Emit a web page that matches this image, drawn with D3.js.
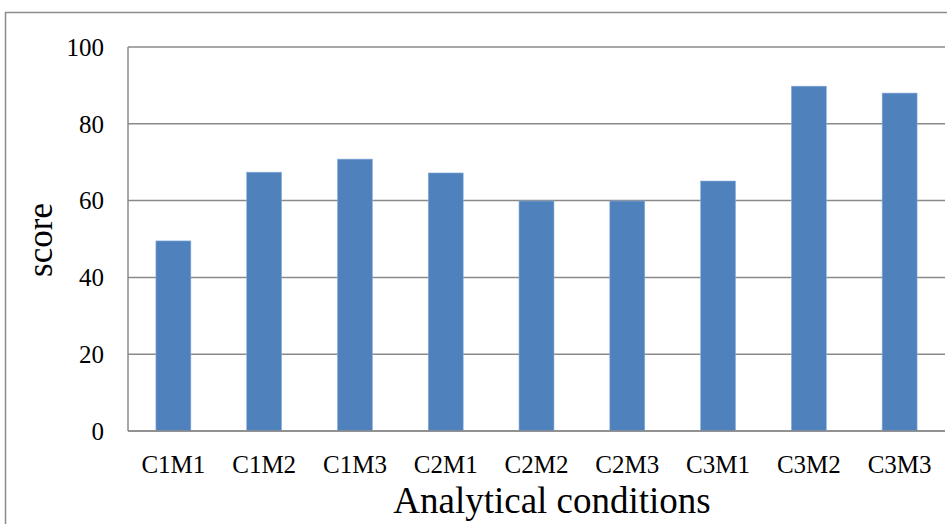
<!DOCTYPE html>
<html>
<head>
<meta charset="utf-8">
<script src="https://cdn.jsdelivr.net/npm/d3@7"></script>
<style>
  body { margin: 0; background: #fff; }
  text { font-family: "Liberation Serif", "Times New Roman", serif; fill: #000; }
</style>
</head>
<body>
<svg width="947" height="524"></svg>
<script>
var categories = ["C1M1", "C1M2", "C1M3", "C2M1", "C2M2", "C2M3", "C3M1", "C3M2", "C3M3"];
var scores = [49.5, 67.4, 70.8, 67.2, 59.9, 59.9, 65.1, 89.8, 88.0];
var yTicks = [0, 20, 40, 60, 80, 100];

var svg = d3.select("svg");

var margin = {left: 128, top: 47, right: 2, bottom: 93};
var width = 947 - margin.left - margin.right,
    height = 524 - margin.top - margin.bottom;

// outer chart border
svg.append("rect")
    .attr("x", 5.5).attr("y", 12.5)
    .attr("width", 960).attr("height", 540)
    .attr("fill", "none")
    .attr("stroke", "#8c8c8c")
    .attr("stroke-width", 1.5);

var g = svg.append("g")
    .attr("transform", "translate(" + margin.left + "," + margin.top + ")");

var x = d3.scaleBand()
    .domain(categories)
    .range([0, width])
    .paddingInner(0.615)
    .paddingOuter(0.3075);

var y = d3.scaleLinear()
    .domain([0, 100])
    .range([height, 0]);

// gridlines
g.selectAll(".grid")
  .data(yTicks)
  .enter().append("line")
    .attr("x1", 0).attr("x2", width)
    .attr("y1", function(d) { return y(d); })
    .attr("y2", function(d) { return y(d); })
    .attr("stroke", "#8a8a8a")
    .attr("stroke-width", 1.5);

// y axis line
g.append("line")
    .attr("x1", 0).attr("x2", 0)
    .attr("y1", 0).attr("y2", height)
    .attr("stroke", "#8a8a8a")
    .attr("stroke-width", 1.5);

// bars
g.selectAll(".bar")
  .data(scores)
  .enter().append("rect")
    .attr("x", function(d, i) { return x(categories[i]); })
    .attr("y", function(d) { return y(d); })
    .attr("width", x.bandwidth())
    .attr("height", function(d) { return height - y(d); })
    .attr("fill", "#4f81bd")
    .attr("stroke", "#8eb0dc")
    .attr("stroke-width", 0.6);

// redraw baseline on top of bars
g.append("line")
    .attr("x1", 0).attr("x2", width)
    .attr("y1", height).attr("y2", height)
    .attr("stroke", "#8a8a8a")
    .attr("stroke-width", 1.5);

// y tick labels
g.selectAll(".ylab")
  .data(yTicks)
  .enter().append("text")
    .attr("x", -24)
    .attr("y", function(d) { return y(d); })
    .attr("dy", "0.35em")
    .attr("text-anchor", "end")
    .style("font-size", "25px")
    .text(function(d) { return d; });

// x tick labels
g.selectAll(".xlab")
  .data(categories)
  .enter().append("text")
    .attr("x", function(d) { return x(d) + x.bandwidth() / 2; })
    .attr("y", height + 42)
    .attr("text-anchor", "middle")
    .style("font-size", "25px")
    .text(function(d) { return d; });

// axis titles
svg.append("text")
    .attr("transform", "translate(52,240) rotate(-90)")
    .attr("text-anchor", "middle")
    .style("font-size", "35px")
    .text("score");

svg.append("text")
    .attr("x", 552)
    .attr("y", 513)
    .attr("text-anchor", "middle")
    .style("font-size", "37px")
    .text("Analytical conditions");
</script>
</body>
</html>
